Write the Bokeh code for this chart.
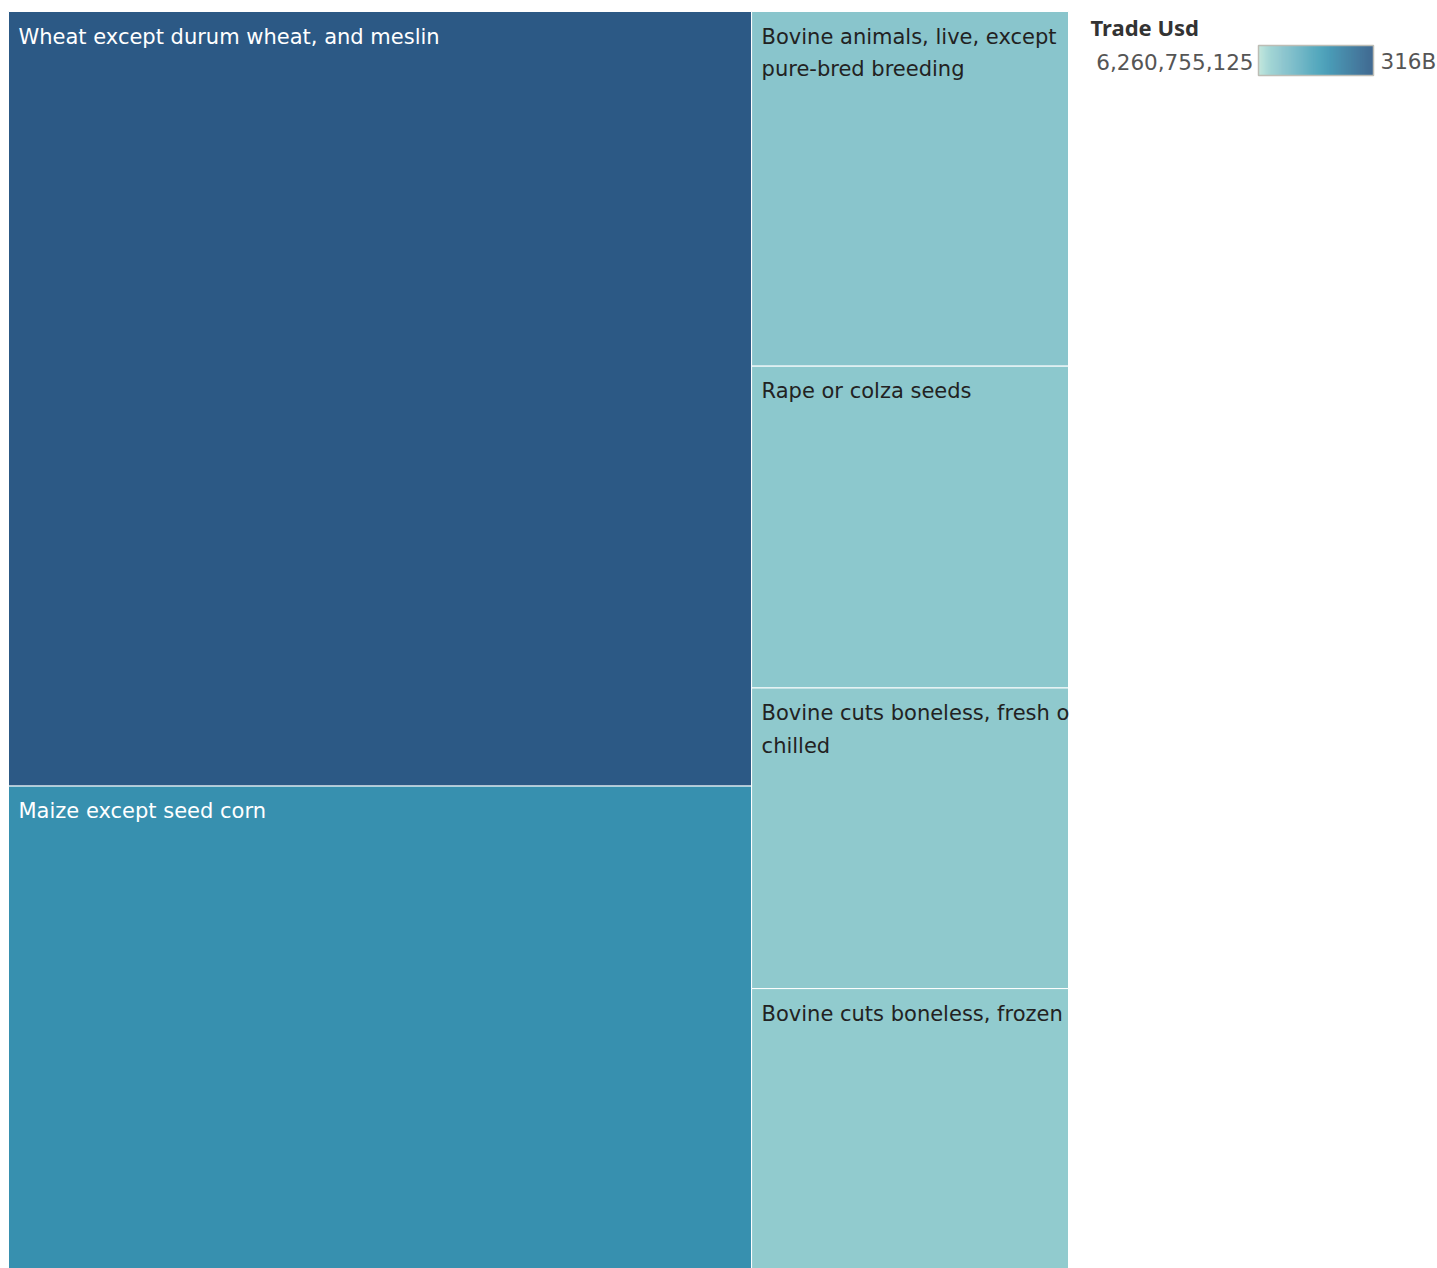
import numpy as np
from bokeh.plotting import figure
from bokeh.models import Range1d, ColumnDataSource
from bokeh.core.properties import value
from bokeh.embed import file_html
from bokeh.resources import INLINE

# ---------------- data ----------------
categories = [
    "Wheat except durum wheat, and meslin",
    "Maize except seed corn",
    "Bovine animals, live, except pure-bred breeding",
    "Rape or colza seeds",
    "Bovine cuts boneless, fresh or chilled",
    "Bovine cuts boneless, frozen",
]
label_lines = [
    "Wheat except durum wheat, and meslin",
    "Maize except seed corn",
    "Bovine animals, live, except\npure-bred breeding",
    "Rape or colza seeds",
    "Bovine cuts boneless, fresh or\nchilled",
    "Bovine cuts boneless, frozen",
]
trade_usd = [316.0e9, 196.8e9, 61.7e9, 56.0e9, 52.3e9, 48.7e9]
column_groups = [[0, 1], [2, 3, 4, 5]]

legend_title = "Trade Usd"
color_low = 6260755125.0
color_high = 316.0e9
legend_low_label = "6,260,755,125"
legend_high_label = "316B"

palette_stops = ["#bce4d8", "#a8d9d5", "#96cfcf", "#8dc8cd", "#82c0ca", "#78bbc7",
                 "#6db5c4", "#62afc0", "#56a9bc", "#4ba3b9", "#419eb6", "#3b96b2",
                 "#358ead", "#3586a7", "#347ea1", "#32779b", "#316f96", "#2f6790",
                 "#2d608a", "#2c5985"]

# ---------------- helpers ----------------
stops = np.array([[int(c[i:i + 2], 16) for i in (1, 3, 5)] for c in palette_stops], float)


def color_at(t):
    t = min(max(t, 0.0), 1.0)
    pos = t * (len(stops) - 1)
    i = min(int(pos), len(stops) - 2)
    f = pos - i
    rgb = stops[i] * (1 - f) + stops[i + 1] * f
    return "#%02x%02x%02x" % tuple(int(round(c)) for c in rgb)


def norm(v):
    return (v - color_low) / (color_high - color_low)


# ---------------- layout ----------------
FW, FH = 1437, 1268
X0, Y0, W, H = 8.0, 11.0, 1060.0, 1257.0

total = sum(trade_usd)
L, R, T, B, cols, txtcol = [], [], [], [], [], []
lx, ly, ltxt = [], [], []
x = X0
for grp in column_groups:
    gsum = sum(trade_usd[i] for i in grp)
    cw = W * gsum / total
    y = Y0
    for i in grp:
        h = H * trade_usd[i] / gsum
        L.append(x); R.append(x + cw); T.append(y); B.append(y + h)
        t = norm(trade_usd[i])
        cols.append(color_at(t))
        txtcol.append("#ffffff" if t > 0.5 else "#222222")
        lx.append(x + 10); ly.append(y + 13); ltxt.append(label_lines[i])
        y += h
    x += cw

p = figure(width=FW, height=FH, output_backend="svg", toolbar_location=None,
           x_range=Range1d(0, FW), y_range=Range1d(FH, 0),
           min_border=0, min_border_left=0, min_border_right=0,
           min_border_top=0, min_border_bottom=0)
p.axis.visible = False
p.grid.visible = False
p.outline_line_color = None
p.background_fill_color = "white"
p.border_fill_color = "white"

src = ColumnDataSource(dict(left=L, right=R, top=T, bottom=B, color=cols,
                            lx=lx, ly=ly, text=ltxt, tcol=txtcol))
p.quad(left="left", right="right", top="top", bottom="bottom", source=src,
       fill_color="color", line_color="white", line_width=1)

p.text(x="lx", y="ly", text="text", source=src, text_color="tcol",
       text_font=value("DejaVu Sans"), text_font_size="21px",
       text_baseline="top", text_align="left", text_line_height=1.355)

# clip overflowing labels at the treemap's right edge
p.quad(left=[X0 + W + 0.5], right=[FW], top=[110], bottom=[FH],
       fill_color="white", line_color=None)

# ---------------- legend ----------------
bar_l, bar_r, bar_t, bar_b = 1258.0, 1373.0, 45.0, 75.0
n = 115
edges = np.linspace(bar_l, bar_r, n + 1)
grad_cols = [color_at(k / (n - 1)) for k in range(n)]
p.quad(left=edges[:-1], right=edges[1:] + 0.3, top=bar_t, bottom=bar_b,
       fill_color=grad_cols, line_color=None)
p.quad(left=[bar_l], right=[bar_r], top=[bar_t], bottom=[bar_b],
       fill_color=None, line_color="#bdbdb5", line_width=1.5)

p.text(x=[1090], y=[26], text=[legend_title], text_color="#333333",
       text_font=value("Noto Sans"), text_font_size="22px", text_font_style="bold",
       text_baseline="alphabetic", text_align="left")
p.text(x=[bar_l - 5], y=[61], text=[legend_low_label], text_color="#555555",
       text_font=value("DejaVu Sans"), text_font_size="21.5px",
       text_baseline="alphabetic", text_align="right")
p.text(x=[bar_r + 7], y=[61], text=[legend_high_label], text_color="#555555",
       text_font=value("DejaVu Sans"), text_font_size="21.5px",
       text_baseline="alphabetic", text_align="left")

open("out.html", "w").write(file_html(p, INLINE))
